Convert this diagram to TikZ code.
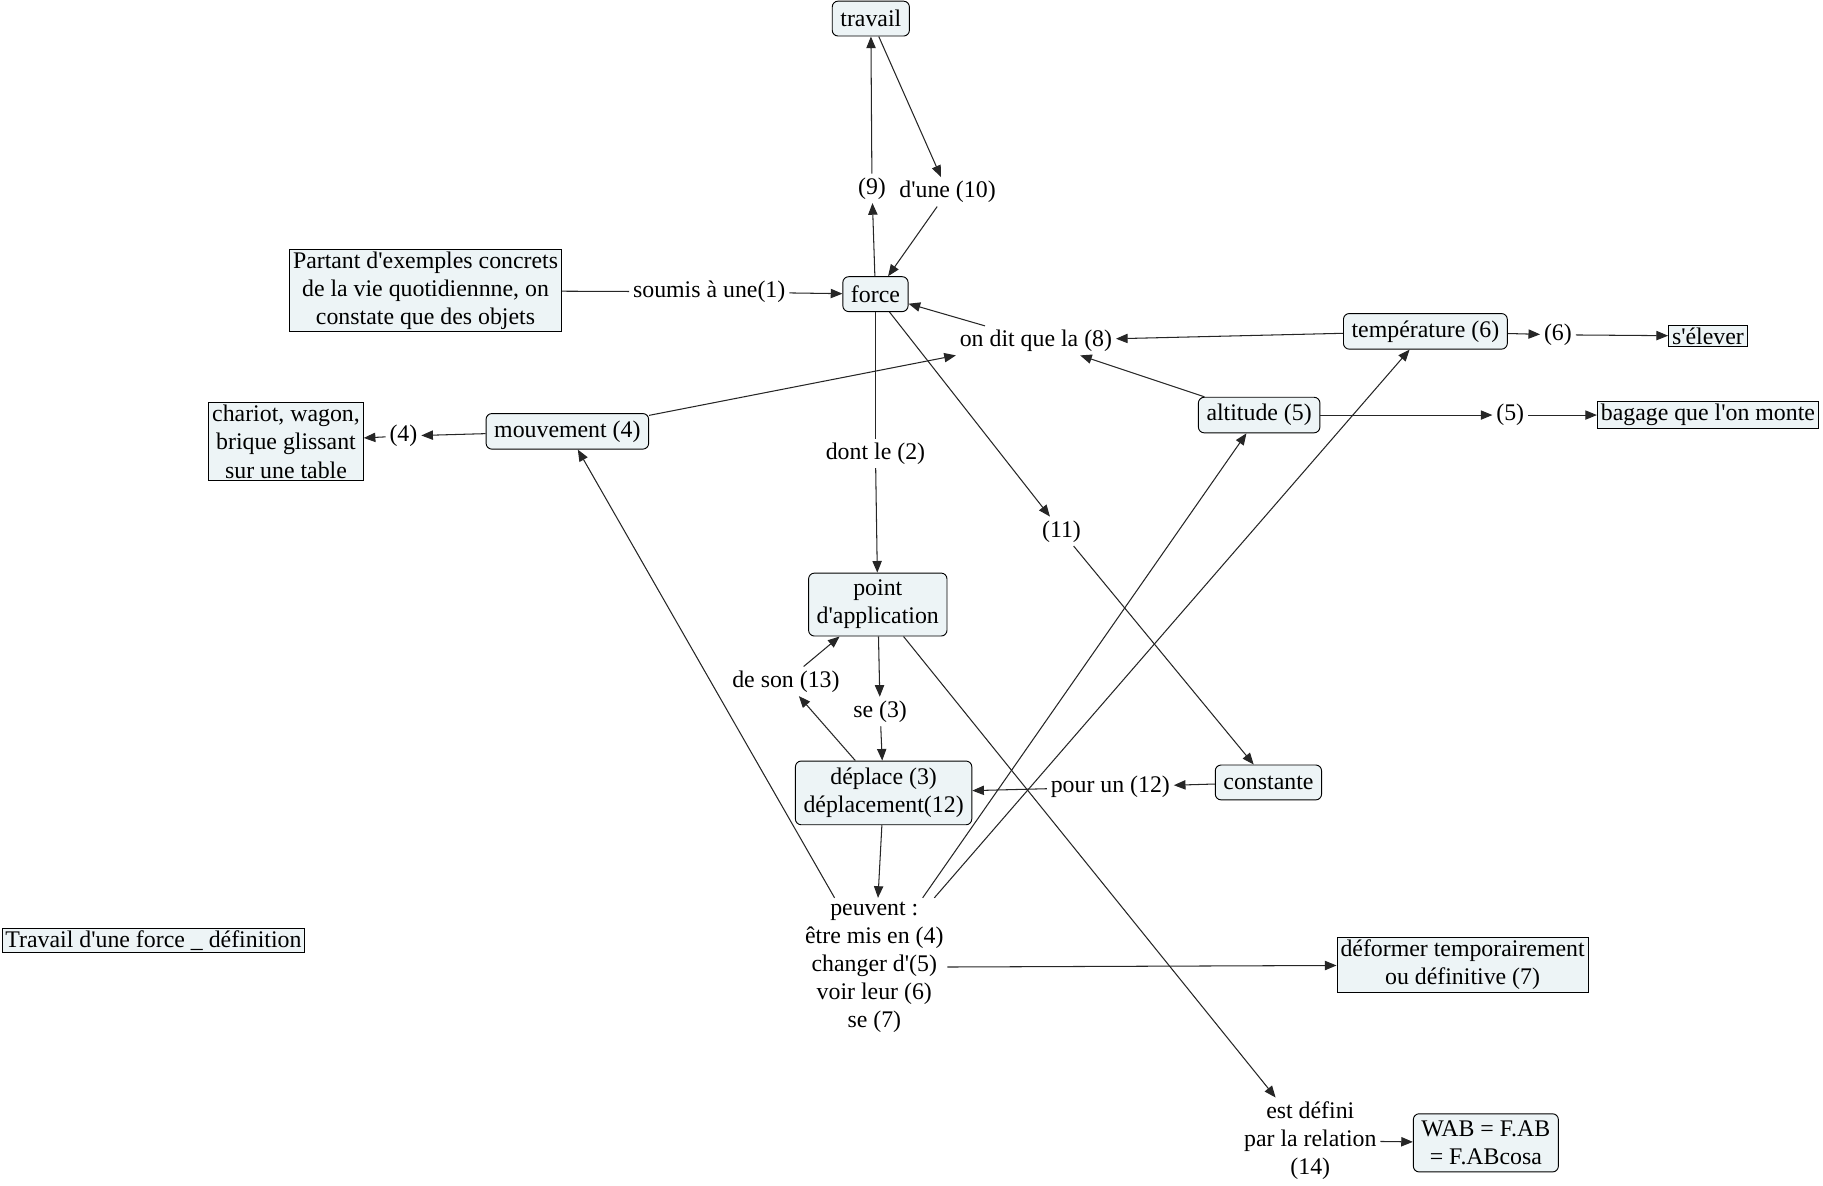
\documentclass[tikz,border=0pt]{standalone}
\usepackage{fontspec}
\setmainfont{Liberation Serif}
\usetikzlibrary{arrows.meta}
\definecolor{conceptfill}{RGB}{237,244,246}
\newcommand{\ap}{\textquotesingle}

\begin{document}
\begin{tikzpicture}[x=0.5pt,y=-0.5pt]
        \tikzstyle{every node}=[font=\fontsize{10.25}{12.1}\selectfont, align=center]
        \tikzstyle{concept}=[draw, fill=conceptfill, rounded corners=2.5pt, inner xsep=3.5pt, inner ysep=3pt, minimum height=15pt]
        \tikzstyle{resource}=[draw, fill=conceptfill, inner xsep=1.5pt, inner ysep=1pt]
        \tikzstyle{linkword}=[inner sep=1.5pt]
        \tikzstyle{line}=[draw=black!85, line width=0.45pt]
        \tikzstyle{link}=[line, -{Triangle[length=5pt,width=4pt]}]

        \useasboundingbox (0,0) rectangle (1568,1020);

        % concepts
        \node[concept] (travail) at (749,16) {travail};
        \node[concept] (force) at (753,253) {force};
        \node[concept] (temperature) at (1226,285) {température (6)};
        \node[concept] (altitude) at (1083,357) {altitude (5)};
        \node[concept] (mouvement) at (488,371) {mouvement (4)};
        \node[concept] (point) at (755,520) {point\\d\ap application};
        \node[concept] (deplace) at (760,682) {déplace (3)\\déplacement(12)};
        \node[concept] (constante) at (1091,673) {constante};
        \node[concept] (wab) at (1278,983) {WAB = F.AB\\= F.ABcosa};

        \node[resource] (partant) at (366,250) {Partant d\ap exemples concrets\\de la vie quotidiennne, on\\constate que des objets};
        \node[resource] (selever) at (1469,289) {s\ap élever};
        \node[resource] (bagage) at (1469,357) {bagage que l\ap on monte};
        \node[resource] (chariot) at (246,380) {chariot, wagon,\\brique glissant\\sur une table};
        \node[resource] (deformer) at (1258,830) {déformer temporairement\\ou définitive (7)};
        \node[resource] (titre) at (132,809) {Travail d\ap une force \_ définition};

        % linking words
        \node[linkword] (l9) at (750,162) {(9)};
        \node[linkword] (l10) at (815,165) {d\ap une (10)};
        \node[linkword] (l1) at (610,251) {soumis à une(1)};
        \node[linkword] (ondit) at (891,293) {on dit que la (8)};
        \node[linkword] (l6) at (1340,288) {(6)};
        \node[linkword] (l5) at (1299,357) {(5)};
        \node[linkword] (l4) at (347,375) {(4)};
        \node[linkword] (l2) at (753,390) {dont le (2)};
        \node[linkword] (l11) at (913,457) {(11)};
        \node[linkword] (l13) at (676,586) {de son (13)};
        \node[linkword] (l3) at (757,612) {se (3)};
        \node[linkword] (l12) at (955,677) {pour un (12)};
        \node[linkword] (peuvent) at (752,832) {peuvent :\\être mis en (4)\\changer d\ap (5)\\voir leur (6)\\se (7)};
        \node[linkword] (l14) at (1127,981) {est défini\\par la relation\\(14)};

        % connections
        \draw[link] (force) -- (l9);
        \draw[link] (l9) -- (travail);
        \draw[link] (travail) -- (l10);
        \draw[link] (l10) -- (force);
        \draw[line] (partant) -- (l1);
        \draw[link] (l1) -- (force);
        \draw[link] (temperature) -- (ondit);
        \draw[link] (altitude) -- (ondit);
        \draw[link] (mouvement) -- (ondit.south west);
        \draw[link] (ondit) -- (force);
        \draw[link] (temperature) -- (l6);
        \draw[link] (l6) -- (selever);
        \draw[link] (altitude) -- (l5);
        \draw[link] (l5) -- (bagage);
        \draw[link] (mouvement) -- (l4);
        \draw[link] (l4) -- (chariot);
        \draw[line] (force) -- (l2);
        \draw[link] (l2) -- (point);
        \draw[link] (force) -- (l11);
        \draw[link] (l11) -- (constante);
        \draw[link] (point) -- (l3);
        \draw[link] (l3) -- (deplace);
        \draw[link] (deplace) -- (l13);
        \draw[link] (l13) -- (point);
        \draw[link] (constante) -- (l12);
        \draw[link] (l12) -- (deplace);
        \draw[link] (deplace) -- (peuvent);
        \draw[link] (peuvent) -- (mouvement);
        \draw[link] (peuvent) -- (altitude);
        \draw[link] (peuvent) -- (temperature);
        \draw[link] (peuvent) -- (deformer);
        \draw[link] (point) -- (l14);
        \draw[link] (l14) -- (wab);

    \end{tikzpicture}
\end{document}
